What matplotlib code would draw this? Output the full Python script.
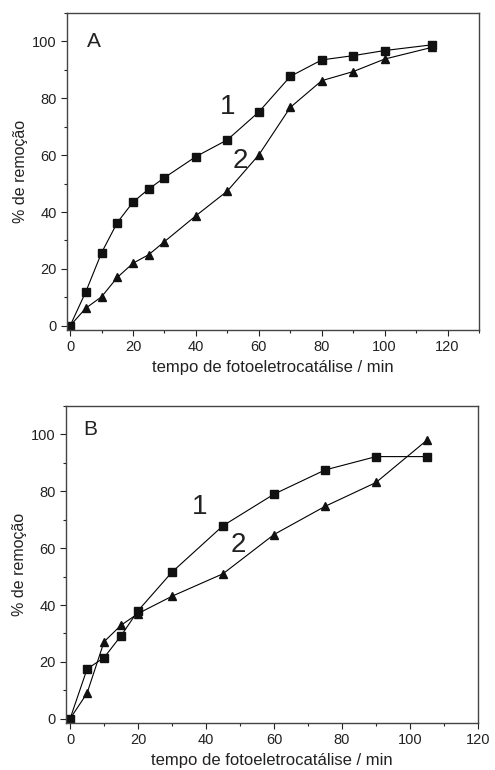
import matplotlib
matplotlib.use("Agg")
import matplotlib.pyplot as plt
from matplotlib.ticker import MultipleLocator

plt.rcParams['font.family'] = ['Liberation Sans', 'DejaVu Sans']

# Panel A data
a_x = [0, 5, 10, 15, 20, 25, 30, 40, 50, 60, 70, 80, 90, 100, 115]
a_s1 = [0, 12.0, 25.7, 36.3, 43.5, 48.1, 52.1, 59.5, 65.4, 75.2, 87.7, 93.5, 95.0, 96.8, 98.8]
a_s2 = [0, 6.2, 10.2, 17.0, 22.0, 25.0, 29.6, 38.7, 47.4, 60.1, 76.8, 86.2, 89.4, 93.8, 97.9]

# Panel B data
b_x = [0, 5, 10, 15, 20, 30, 45, 60, 75, 90, 105]
b_s1 = [0, 17.5, 21.5, 29.2, 38.0, 51.6, 67.9, 79.0, 87.5, 92.2, 92.2]
b_s2 = [0, 9.0, 27.1, 32.9, 37.0, 43.1, 51.0, 64.8, 74.7, 83.1, 98.0]

xlabel = "tempo de fotoeletrocatálise / min"
ylabel = "% de remoção"

fig = plt.figure(figsize=(4.95, 7.7), dpi=100)
W, H = 495, 770
axA = fig.add_axes([67 / W, 1 - 330 / H, (479 - 67) / W, (330 - 13) / H])
axB = fig.add_axes([66 / W, 1 - 723 / H, (478 - 66) / W, (723 - 406) / H])

def style(ax, xlim):
    ax.set_xlim(*xlim)
    ax.set_ylim(-1.5, 110)
    ax.xaxis.set_major_locator(MultipleLocator(20))
    ax.xaxis.set_minor_locator(MultipleLocator(10))
    ax.yaxis.set_major_locator(MultipleLocator(20))
    ax.yaxis.set_minor_locator(MultipleLocator(10))
    ax.tick_params(which='major', direction='out', length=4, width=0.8,
                   labelsize=10.5, colors='#222222', top=False, right=False)
    ax.tick_params(which='minor', direction='out', length=2.5, width=0.8,
                   top=False, right=False, colors='#222222')
    for s in ax.spines.values():
        s.set_color('#444444')
        s.set_linewidth(1.0)
    ax.set_xlabel(xlabel, fontsize=12, color='#222222', labelpad=4)
    ax.set_ylabel(ylabel, fontsize=11.5, color='#222222', labelpad=3)

axA.plot(a_x, a_s1, '-s', color='black', lw=0.8, ms=5.5, mfc='#111111', mec='#111111')
axA.plot(a_x, a_s2, '-^', color='black', lw=0.8, ms=5.8, mfc='#111111', mec='#111111')
style(axA, (-1, 130))
axA.text(7.4, 100, "A", fontsize=15, ha='center', va='center', color='#222222')
axA.text(50, 77, "1", fontsize=20, ha='center', va='center', color='#222222')
axA.text(54, 58, "2", fontsize=20, ha='center', va='center', color='#222222')

axB.plot(b_x, b_s1, '-s', color='black', lw=0.8, ms=5.5, mfc='#111111', mec='#111111')
axB.plot(b_x, b_s2, '-^', color='black', lw=0.8, ms=5.8, mfc='#111111', mec='#111111')
style(axB, (-1.2, 120))
axB.text(5.9, 101.7, "B", fontsize=15, ha='center', va='center', color='#222222')
axB.text(38.2, 74.3, "1", fontsize=20, ha='center', va='center', color='#222222')
axB.text(49.5, 61, "2", fontsize=20, ha='center', va='center', color='#222222')

fig.savefig("out.png", dpi=100)
